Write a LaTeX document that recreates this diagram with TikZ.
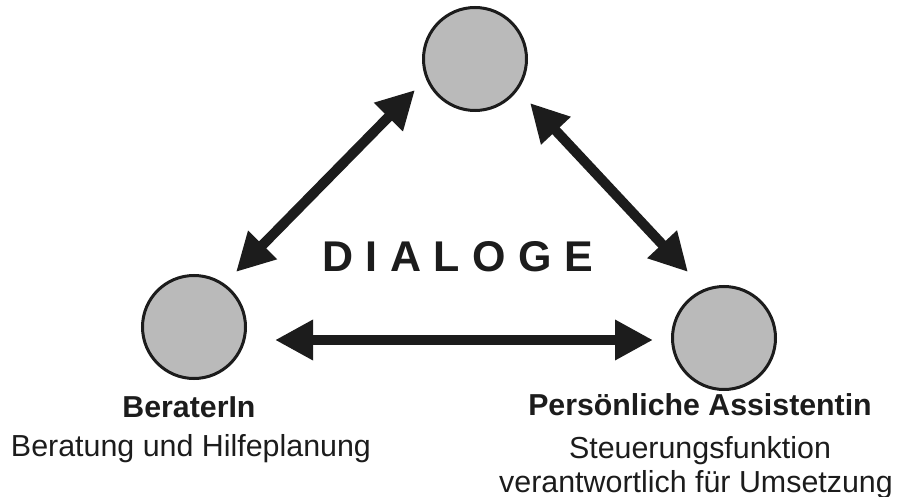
\documentclass[tikz,border=0pt]{standalone}
\usepackage{fontspec}
\setmainfont{Liberation Sans}
\usetikzlibrary{arrows.meta,calc}
\definecolor{circfill}{RGB}{186,186,186}
\definecolor{ink}{RGB}{28,28,28}
\tikzset{
  pers/.style={circle,draw=ink,line width=3pt,fill=circfill,minimum size=103pt,inner sep=0pt},
  dblarrow/.style={draw=ink,line width=10pt,{Triangle[length=38pt,width=38pt]}-{Triangle[length=38pt,width=38pt]}},
  boldlbl/.style={anchor=base,inner sep=0pt,font=\fontsize{30.3}{34}\selectfont\bfseries,text=ink},
  reglbl/.style={anchor=base,inner sep=0pt,font=\fontsize{30.4}{34}\selectfont,text=ink}
}
\begin{document}
\begin{tikzpicture}[x=1pt,y=-1pt]
\useasboundingbox (0,0) rectangle (900,497);
\node[pers] (T) at (475,59) {};
\node[pers] (L) at (194,327) {};
\node[pers] (R) at (724,338) {};
\draw[dblarrow] ($(L)+(42,-55)$) -- ($(T)+(-60,31)$);
\draw[dblarrow] ($(T)+(55,44)$) -- ($(R)+(-36,-66)$);
\draw[dblarrow] ($(L)+(81,13)$) -- ($(R)+(-71,2)$);
\node[anchor=base,inner sep=0pt,text=ink,font=\fontsize{43}{48}\selectfont\bfseries] (D) at (457.5,271.5)
  {D\hspace{12.5pt}I\hspace{12.5pt}A\hspace{12.5pt}L\hspace{12.5pt}O\hspace{12.5pt}G\hspace{12.5pt}E};
\node[boldlbl] (b1) at (189,417) {BeraterIn};
\node[reglbl] (b2) at (191,456) {Beratung und Hilfeplanung};
\node[boldlbl] (p1) at (700,415) {Persönliche Assistentin};
\node[reglbl] (p2) at (700,458) {Steuerungsfunktion};
\node[reglbl] (p3) at (696,492) {verantwortlich für Umsetzung};
\end{tikzpicture}
\end{document}
